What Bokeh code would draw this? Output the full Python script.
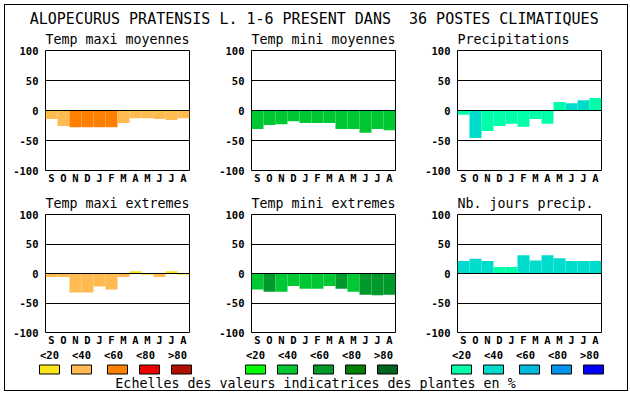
from bokeh.plotting import figure
from bokeh.models import Range1d, FixedTicker, ColumnDataSource, Column, Row
from bokeh.embed import file_html
from bokeh.resources import INLINE
from bokeh.core.properties import value

# ---------------- data ----------------
months = ["S", "O", "N", "D", "J", "F", "M", "A", "M", "J", "J", "A"]
main_title = "ALOPECURUS PRATENSIS L. 1-6 PRESENT DANS \u00a036 POSTES CLIMATIQUES"
panel_titles = ["Temp maxi moyennes", "Temp mini moyennes", "Precipitations",
                "Temp maxi extremes", "Temp mini extremes", "Nb. jours precip."]
legend_labels = ["<20", "<40", "<60", "<80", ">80"]
scale_caption = "Echelles des valeurs indicatrices des plantes en %"
y_ticks = [-100, -50, 0, 50, 100]
grid_ticks = [-50, 0, 50]

orange = ["#F8E51C", "#FFBA50", "#FF8000", "#EE0000", "#B01000"]
green = ["#00FF00", "#00C832", "#009A2C", "#008000", "#006420"]
blue = ["#00FFAA", "#00DCCC", "#00BADC", "#0096EE", "#0000FF"]

tmax_moy = [-14, -26, -28, -28, -28, -28, -21, -13, -13, -14, -16, -13]
tmax_moy_cls = [1, 1, 2, 2, 2, 2, 1, 1, 1, 1, 1, 1]
tmin_moy = [-31, -24, -23, -18, -21, -21, -21, -31, -31, -37, -31, -33]
tmin_moy_cls = [1, 1, 1, 1, 1, 1, 1, 1, 1, 1, 1, 1]
precip = [-7, -46, -34, -26, -22, -27, -14, -22, 14, 12, 17, 21]
precip_cls = [0, 1, 0, 0, 0, 0, 0, 0, 0, 1, 1, 0]
tmax_ext = [-6, -6, -32, -32, -22, -27, -6, 4, -2, -6, 4, -2]
tmax_ext_cls = [1, 1, 1, 1, 1, 1, 1, 0, 0, 1, 0, 0]
tmin_ext = [-27, -31, -31, -21, -26, -26, -21, -26, -31, -36, -37, -36]
tmin_ext_cls = [1, 2, 1, 1, 1, 1, 1, 2, 1, 2, 2, 2]
njours = [21, 25, 21, 11, 11, 31, 22, 31, 26, 21, 21, 21]
njours_cls = [1, 1, 1, 0, 0, 1, 1, 1, 1, 1, 1, 1]

MONO = "DejaVu Sans Mono"
TICK_SIZE = "10.5px"


def panel(vals, cls, pal, title, width, right, top, bottom):
    p = figure(width=width, height=top + 120 + bottom, title=title,
               x_range=Range1d(-0.5, 11.5), y_range=Range1d(-100, 100),
               min_border_left=40, min_border_right=right,
               min_border_top=top, min_border_bottom=bottom,
               output_backend="svg", toolbar_location=None, tools="")
    p.title.align = "left"
    p.title.offset = 0
    p.title.standoff = 7
    p.title.text_font = MONO
    p.title.text_font_size = "13.3px"
    p.title.text_font_style = "normal"
    p.title.text_color = "black"
    p.outline_line_color = "black"
    p.outline_line_width = 1
    p.outline_line_alpha = 1
    p.background_fill_color = "white"
    p.border_fill_color = "white"
    p.xgrid.visible = False
    p.ygrid.ticker = FixedTicker(ticks=grid_ticks)
    p.ygrid.grid_line_color = "black"
    p.ygrid.grid_line_alpha = 1
    p.ygrid.grid_line_width = 1
    p.ygrid.level = "overlay"
    src = ColumnDataSource(dict(x=list(range(len(vals))), top=vals,
                                color=[pal[c] for c in cls]))
    p.vbar(x="x", top="top", bottom=0, width=1, fill_color="color",
           line_color=None, source=src)
    ya = p.yaxis[0]
    ya.ticker = FixedTicker(ticks=y_ticks)
    ya.major_label_overrides = {t: str(t) for t in y_ticks}
    xa = p.xaxis[0]
    xa.ticker = FixedTicker(ticks=list(range(12)))
    xa.major_label_overrides = {i: m for i, m in enumerate(months)}
    for ax in (xa, ya):
        ax.axis_line_color = None
        ax.major_tick_line_color = None
        ax.minor_tick_line_color = None
        ax.major_tick_out = 0
        ax.major_tick_in = 0
        ax.major_label_text_font = MONO
        ax.major_label_text_font_style = "bold"
        ax.major_label_text_font_size = TICK_SIZE
        ax.major_label_text_color = "black"
    ya.major_label_standoff = 7
    xa.major_label_standoff = 1
    return p


pals = [orange, green, blue]
row1_data = [(tmax_moy, tmax_moy_cls), (tmin_moy, tmin_moy_cls), (precip, precip_cls)]
row2_data = [(tmax_ext, tmax_ext_cls), (tmin_ext, tmin_ext_cls), (njours, njours_cls)]
widths = [206, 206, 210]
rights = [22, 22, 26]

row1 = [panel(v, c, pals[i], panel_titles[i], widths[i], rights[i], 24, 20)
        for i, (v, c) in enumerate(row1_data)]
row2 = [panel(v, c, pals[i], panel_titles[3 + i], widths[i], rights[i], 24, 14)
        for i, (v, c) in enumerate(row2_data)]


def blank(height, y0, y1):
    f = figure(width=622, height=height, x_range=Range1d(5, 627),
               y_range=Range1d(y1, y0), min_border=0,
               x_axis_location=None, y_axis_location=None,
               output_backend="svg", toolbar_location=None, tools="")
    f.outline_line_color = None
    f.grid.visible = False
    f.background_fill_color = "white"
    f.border_fill_color = "white"
    return f


tf = blank(21, 5, 26)
tf.text(x=[313.7], y=[18], text=[main_title], text_align="center",
        text_baseline="middle", text_font=value(MONO), text_font_size="15px",
        text_color="black")

lf = blank(42, 348, 390)
offsets = [0, 206, 412]
label_cx = [49, 81, 113, 145, 177]
box_lx = [39, 71, 107, 139, 171]
for k, off in enumerate(offsets):
    lf.text(x=[c + off for c in label_cx], y=[348.2] * 5, text=legend_labels,
            text_align="center", text_baseline="top", text_font=value(MONO),
            text_font_style="bold", text_font_size=TICK_SIZE, text_color="black")
    lf.quad(left=[b + off for b in box_lx], right=[b + off + 20 for b in box_lx],
            top=[364.5] * 5, bottom=[373.5] * 5, fill_color=pals[k],
            line_color="black", line_width=1)
lf.text(x=[315], y=[382.5], text=[scale_caption], text_align="center",
        text_baseline="middle", text_font=value(MONO), text_font_size="13.3px",
        text_color="black")

root = Column(children=[tf, Row(children=row1), Row(children=row2), lf],
              styles={"border": "1px solid black", "margin": "4px 0 0 4px"})

open("out.html", "w").write(file_html(root, INLINE))
